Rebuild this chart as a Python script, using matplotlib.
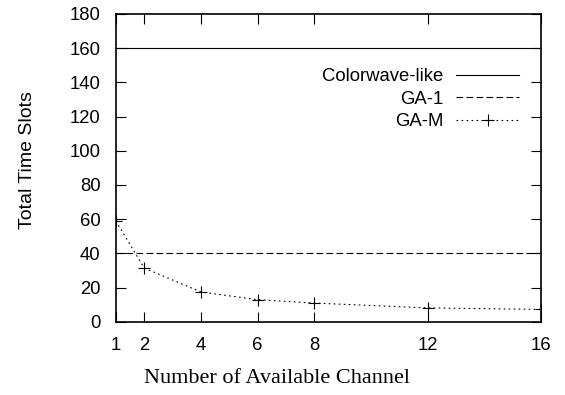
import matplotlib.pyplot as plt

channels = [1, 2, 4, 6, 8, 12, 16]
colorwave = [160, 160, 160, 160, 160, 160, 160]
ga_1 = [40.5, 40.5, 40.5, 40.5, 40.5, 40.5, 40.5]
ga_m = [59, 31.5, 17.5, 13, 11, 8.2, 7.3]

xticks = [1, 2, 4, 6, 8, 12, 16]
yticks = list(range(0, 181, 20))

plt.rcParams['font.family'] = 'Liberation Sans'

fig = plt.figure(figsize=(5.65, 3.95), dpi=100)
ax = fig.add_axes([0.205, 0.185, 0.753, 0.78])

ax.plot(channels, colorwave, color='black', lw=0.8, label='Colorwave-like')
ax.plot(channels, ga_1, color='black', lw=0.8, dashes=(6, 3), label='GA-1')
ax.plot(channels, ga_m, color='black', lw=0.8, dashes=(1.5, 3),
        marker='+', markersize=8, markeredgewidth=0.8, label='GA-M')

ax.set_xlim(1, 16)
ax.set_ylim(0, 180)
ax.set_xticks(xticks)
ax.set_yticks(yticks)
ax.tick_params(direction='in', length=7, width=0.8, labelsize=13.3,
               top=True, right=True)
ax.tick_params(axis='x', pad=11)
ax.tick_params(axis='y', pad=11)
for s in ax.spines.values():
    s.set_linewidth(1.2)

ax.set_xlabel('Number of Available Channel', fontsize=16,
              family='Liberation Serif')
ax.set_ylabel('Total Time Slots', fontsize=14, family='Liberation Sans')
ax.xaxis.set_label_coords(0.378, -0.154)
ax.yaxis.set_label_coords(-0.188, 0.526)

# gnuplot-style key: label on the left, right-aligned against the sample
leg = ax.legend(loc='upper right', bbox_to_anchor=(0.948, 0.823),
                frameon=False, markerfirst=False, fontsize=13.3,
                handlelength=3.4, handletextpad=0.7, labelspacing=0.3,
                borderpad=0, borderaxespad=0)

fig.savefig('out.png', dpi=100)
